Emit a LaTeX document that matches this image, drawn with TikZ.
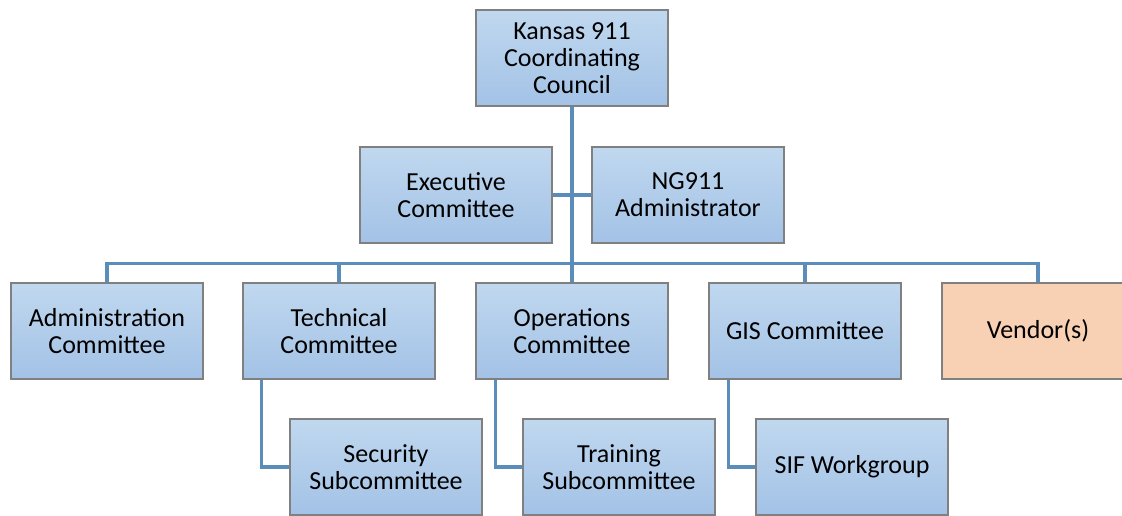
\documentclass[tikz,border=0pt]{standalone}
\usepackage{fontspec}
\setmainfont{Carlito}
\usetikzlibrary{backgrounds}
\begin{document}
\begin{tikzpicture}[x=1pt,y=-1pt,
  orgbox/.style={draw=boxline, line width=1.3pt, top color=boxtop, bottom color=boxbot,
    minimum width=192pt, minimum height=96pt, inner sep=2pt, align=center,
    font=\fontsize{26}{27}\selectfont, text=black},
  vendorbox/.style={orgbox, top color=vendorfill, bottom color=vendorfill},
  link/.style={draw=linkblue, line width=3.2pt}]
\definecolor{boxtop}{HTML}{C0D8EF}
\definecolor{boxbot}{HTML}{A3C2E6}
\definecolor{boxline}{HTML}{808080}
\definecolor{vendorfill}{HTML}{F8D1B5}
\definecolor{linkblue}{HTML}{5B8DBB}
\useasboundingbox (0,0) rectangle (1122,515);

% boxes
\node[orgbox] (council) at (572,58) {Kansas 911\\Coordinating\\Council};
\node[orgbox] (exec) at (456,195) {Executive\\Committee};
\node[orgbox] (ng) at (688,195) {NG911\\Administrator};
\node[orgbox] (admin) at (107,331) {Administration\\Committee};
\node[orgbox] (tech) at (339,331) {Technical\\Committee};
\node[orgbox] (ops) at (572,331) {Operations\\Committee};
\node[orgbox] (gis) at (805,331) {GIS Committee};
\node[vendorbox] (vendor) at (1038,331) {Vendor(s)};
\node[orgbox] (sec) at (386,467) {Security\\Subcommittee};
\node[orgbox] (train) at (619,467) {Training\\Subcommittee};
\node[orgbox] (sif) at (852,467) {SIF Workgroup};

% junction on the committee bus, 19pt above the committee row
\coordinate (bus) at ([yshift=19pt]ops.north);

% connectors, behind the boxes
\begin{scope}[on background layer]
\fill[white] (0,0) rectangle (1122,515);
\path[link] (council.south) -- (ops.north);
\path[link] (exec.east) -- (ng.west);
\path[link] (admin.north) |- (bus) -| (vendor.north);
\path[link] (tech.north) -- (tech.north |- bus);
\path[link] (gis.north) -- (gis.north |- bus);
\path[link] ([xshift=19pt]tech.south west) |- (sec.west);
\path[link] ([xshift=20pt]ops.south west) |- (train.west);
\path[link] ([xshift=20pt]gis.south west) |- (sif.west);
\end{scope}
\end{tikzpicture}
\end{document}
